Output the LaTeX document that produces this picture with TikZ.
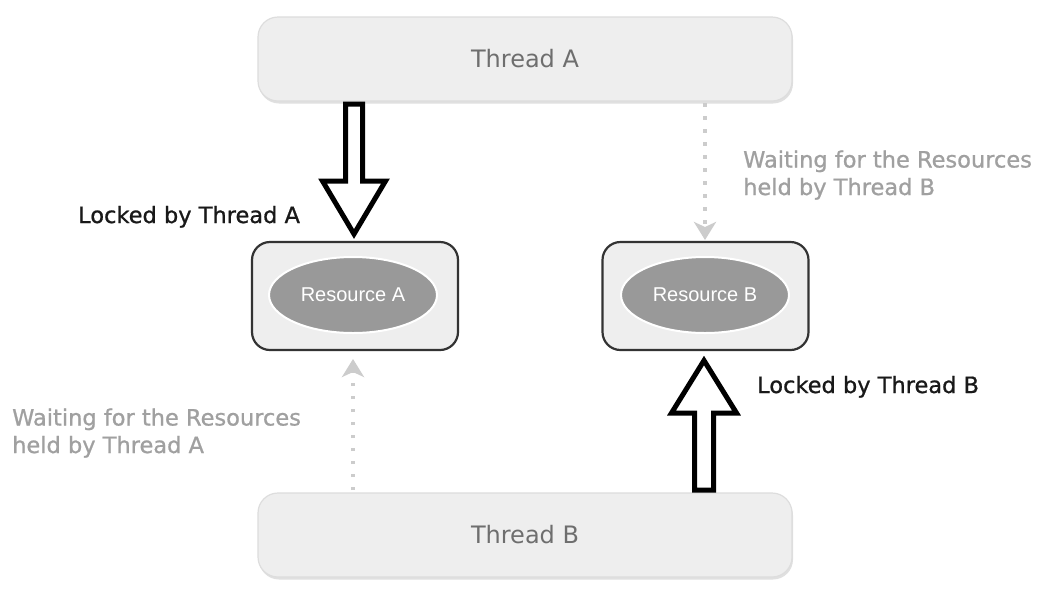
\documentclass[tikz,border=0pt]{standalone}
\usepackage{fontspec}
\setmainfont{DejaVu Sans}
\newfontfamily\resfont{Liberation Sans}
\newfontfamily\labelfont{DejaVu Sans}[AutoFakeBold=0.9]
\usetikzlibrary{arrows.meta,shapes.geometric}
\definecolor{boxfill}{HTML}{EEEEEE}
\definecolor{boxline}{HTML}{DDDDDD}
\definecolor{threadtext}{HTML}{6E6E6E}
\definecolor{waitgray}{HTML}{A0A0A0}
\definecolor{dotgray}{HTML}{CCCCCC}
\definecolor{ellfill}{HTML}{999999}
\begin{document}
\begin{tikzpicture}[x=1pt,y=-1pt,
  threadbox/.style={draw=boxline, line width=1.2pt, fill=boxfill, rounded corners=20pt,
    minimum width=534pt, minimum height=84pt, inner sep=0pt,
    text=threadtext, font=\fontsize{24}{28}\selectfont},
  resbox/.style={draw=black!80, line width=2.2pt, fill=boxfill, rounded corners=18pt,
    minimum width=206pt, minimum height=108pt, inner sep=0pt},
  resell/.style={ellipse, draw=white, line width=2pt, fill=ellfill,
    minimum width=168pt, minimum height=76pt, inner sep=0pt,
    text=white, font=\resfont\fontsize{20}{24}\selectfont},
  blockarrow/.style={draw=black, line width=5pt, fill=white, line join=miter},
  waitarrow/.style={draw=dotgray, line width=3.5pt, dash pattern=on 3.5pt off 9.5pt,
    -{Stealth[length=18pt,width=22pt,inset=5pt,fill=dotgray,sep=0pt]}},
  blacklabel/.style={anchor=base west, inner sep=0pt, text=black!90,
    font=\labelfont\bfseries\fontsize{22.5}{27.5}\selectfont},
  graylabel/.style={anchor=base west, inner sep=0pt, text=waitgray, align=left,
    font=\labelfont\bfseries\fontsize{22.5}{27.5}\selectfont}
]
\useasboundingbox (0,0) rectangle (1054,606);
\fill[white] (0,0) rectangle (1054,606);

% thread boxes (with faint shadow)
\fill[black!12, rounded corners=20pt] (259,19.5) rectangle (793,103.5);
\node[threadbox] (ta) at (525,59) {Thread A};
\fill[black!12, rounded corners=20pt] (259,495.5) rectangle (793,579.5);
\node[threadbox] (tb) at (525,535) {Thread B};

% resource boxes
\node[resbox] (rba) at (355,296) {};
\node[resell] (ra) at (353,295) {Resource A};
\node[resbox] (rbb) at (705.5,296) {};
\node[resell] (rb) at (705,295) {Resource B};

% block arrows (locks)
\draw[blockarrow] (345.5,104) -- (362.5,104) -- (362.5,181) -- (385.5,181)
  -- (354,234) -- (322.5,181) -- (345.5,181) -- cycle;
\draw[blockarrow] (694.5,490) -- (713.5,490) -- (713.5,413) -- (736.5,413)
  -- (704,360.5) -- (671.5,413) -- (694.5,413) -- cycle;

% waiting arrows
\coordinate (wbstart) at (705,103);
\coordinate (wbend) at (705,240);
\draw[waitarrow] (wbstart) -- (wbend);
\coordinate (wastart) at (353,490);
\coordinate (waend) at (353,359);
\draw[waitarrow] (wastart) -- (waend);

% labels
\node[blacklabel] (la) at (78,223) {Locked by Thread A};
\node[blacklabel] (lb) at (757,393) {Locked by Thread B};
\node[graylabel] (wb) at (743,195) {Waiting for the Resources\\held by Thread B};
\node[graylabel] (wa) at (12,453) {Waiting for the Resources\\held by Thread A};
\end{tikzpicture}
\end{document}
